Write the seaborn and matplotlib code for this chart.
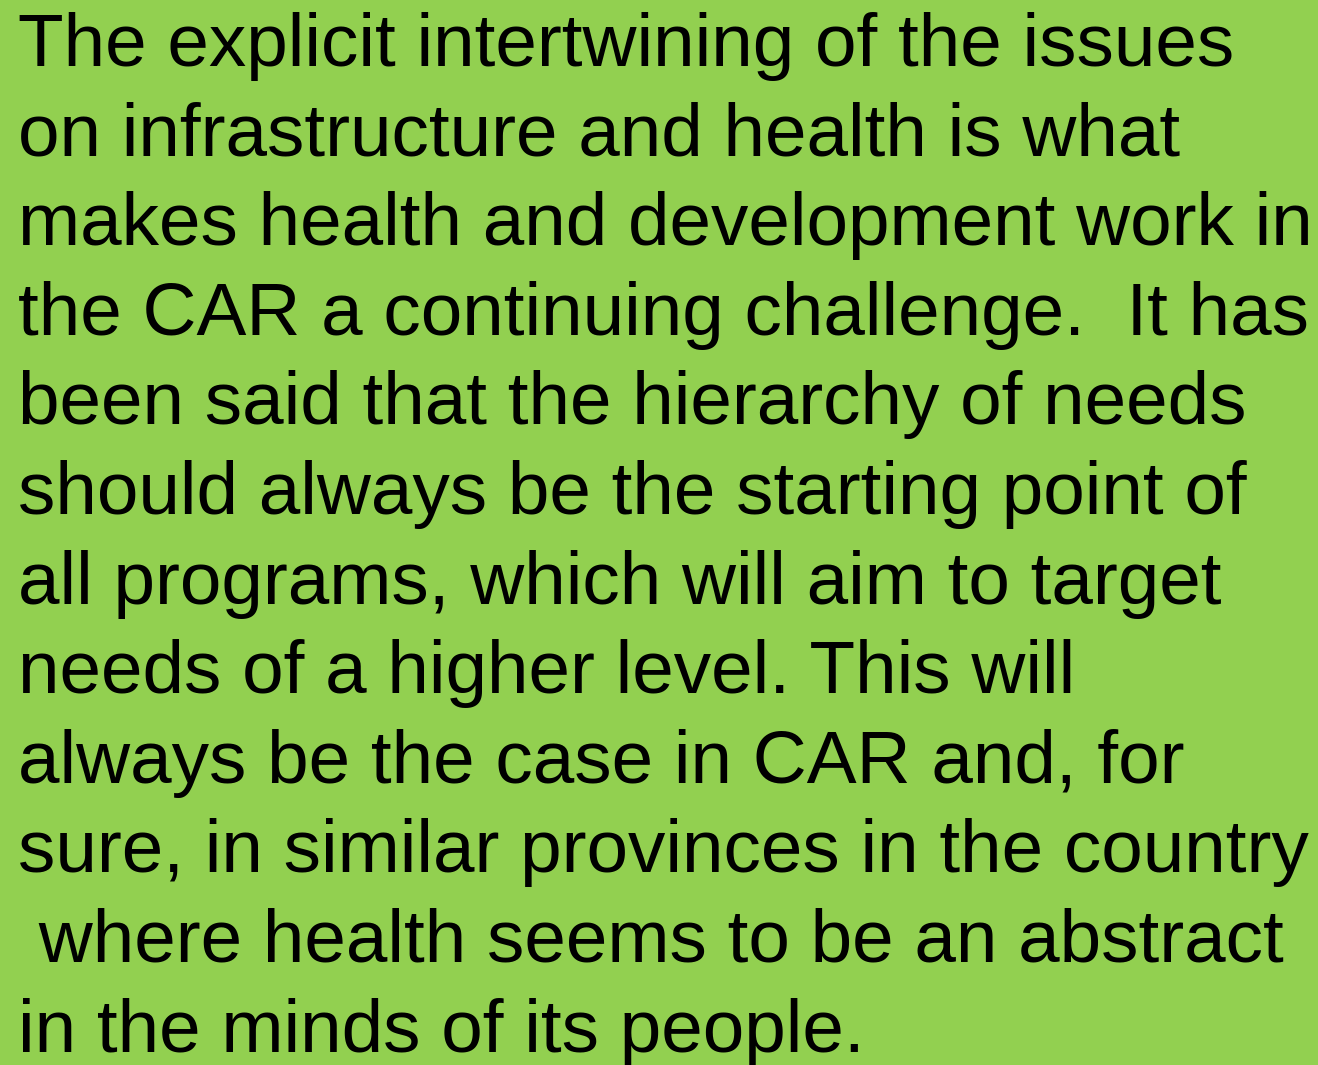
import matplotlib
matplotlib.use("Agg")
import matplotlib.pyplot as plt
import seaborn as sns

# text lines as they appear in the slide
lines = [
    "The explicit intertwining of the issues",
    "on infrastructure and health is what",
    "makes health and development work in",
    "the CAR a continuing challenge.  It has",
    "been said that the hierarchy of needs",
    "should always be the starting point of",
    "all programs, which will aim to target",
    "needs of a higher level. This will",
    "always be the case in CAR and, for",
    "sure, in similar provinces in the country",
    " where health seems to be an abstract",
    "in the minds of its people.",
]
line_no = list(range(len(lines)))

bg = "#92D050"

sns.set_theme(style="white")
plt.rcParams["font.family"] = ["Liberation Sans", "DejaVu Sans"]

fig = plt.figure(figsize=(13.18, 10.65), dpi=100, facecolor=bg)
ax = fig.add_axes([0, 0, 1, 1])
ax.set_facecolor(bg)
ax.set_xlim(0, 1)
# baseline of first line ~66 px from top, ~89.6 px line pitch
ax.set_ylim(11.15, -0.737)
ax.axis("off")

for i, txt in zip(line_no, lines):
    ax.text(0.0137, i, txt, fontsize=53.8, color="black",
            ha="left", va="baseline")

fig.savefig("out.png", dpi=100, facecolor=bg)
